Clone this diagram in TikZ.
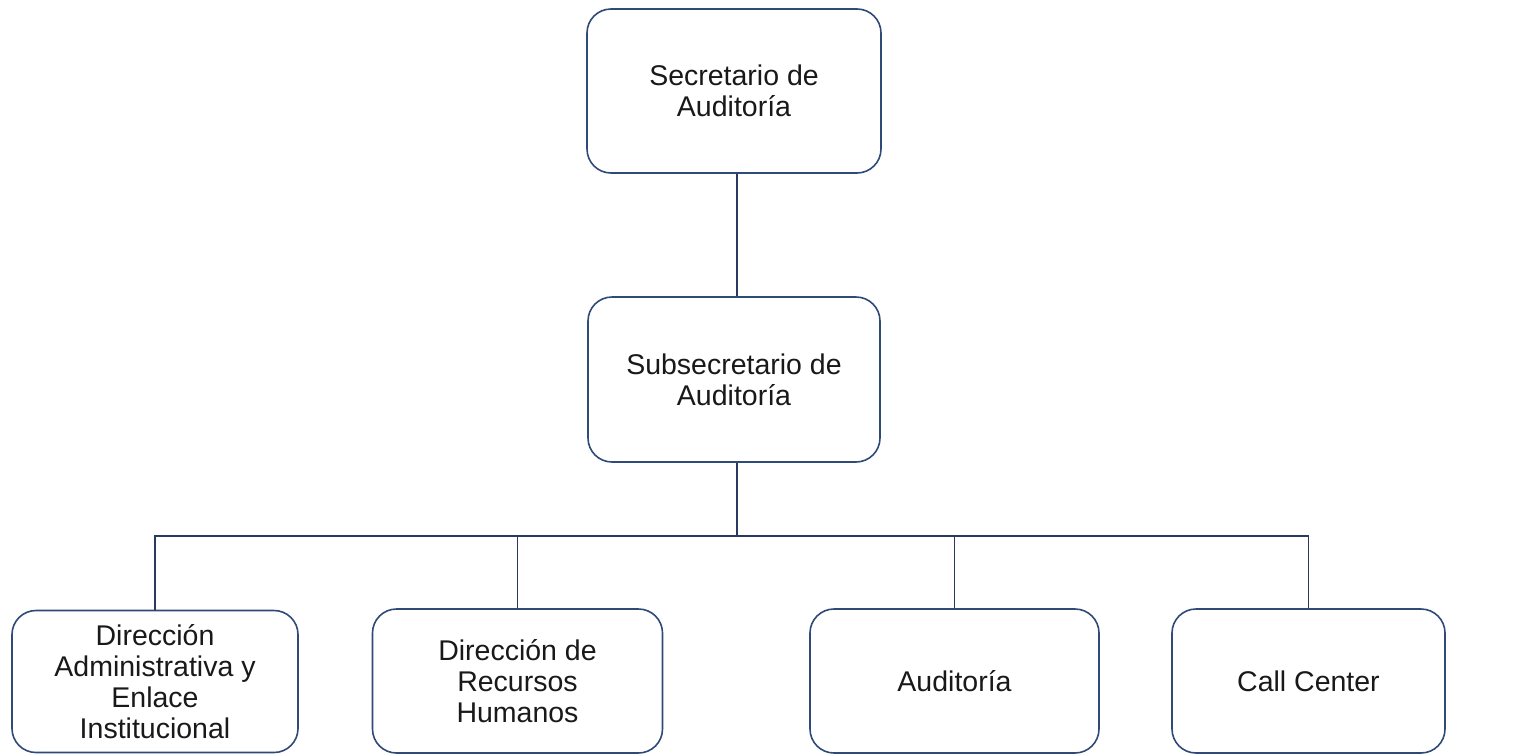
\documentclass[tikz,border=0pt]{standalone}
\usepackage{fontspec}
\setmainfont{Liberation Sans}
\definecolor{boxline}{RGB}{48,74,120}
\definecolor{conline}{RGB}{40,58,95}
\begin{document}
\begin{tikzpicture}[x=1pt,y=-1pt,
  orgbox/.style={draw=boxline, line width=1.6pt, rounded corners=24pt, fill=white,
    align=center, inner sep=0pt, font=\fontsize{28.5}{31}\selectfont, text=black!90},
  conn/.style={draw=conline, line width=1.6pt}]
\useasboundingbox[fill=white] (0,0) rectangle (1523,755);
\node[orgbox, minimum width=294pt, minimum height=164pt] (top) at (734,91) {Secretario de\\Auditoría};
\node[orgbox, minimum width=292pt, minimum height=165pt] (sub) at (734,379.5) {Subsecretario de\\Auditoría};
\node[orgbox, minimum width=286pt, minimum height=142pt] (b1) at (155,681.5) {Dirección\\Administrativa y\\Enlace\\Institucional};
\node[orgbox, minimum width=290pt, minimum height=144pt] (b2) at (517.5,681) {Dirección de\\Recursos\\Humanos};
\node[orgbox, minimum width=289pt, minimum height=144pt] (b3) at (954.5,681) {Auditoría};
\node[orgbox, minimum width=273pt, minimum height=144pt] (b4) at (1308.5,681) {Call Center};
\coordinate (bus) at (737,536);
\draw[conn] ([xshift=3pt]top.south) -- ([xshift=3pt]sub.north);
\draw[conn] ([xshift=3pt]sub.south) -- (bus);
\draw[conn] (b1.north) -- (b1.north |- bus) -- (b4.north |- bus) -- (b4.north);
\draw[conn] (b2.north) -- (b2.north |- bus);
\draw[conn] (b3.north) -- (b3.north |- bus);
\end{tikzpicture}
\end{document}
